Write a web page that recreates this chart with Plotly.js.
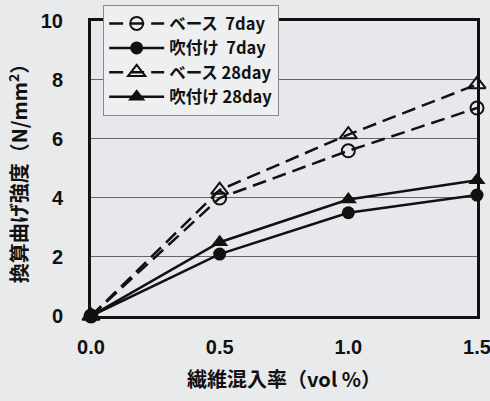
<!DOCTYPE html>
<html>
<head>
<meta charset="utf-8">
<script src="https://cdn.plot.ly/plotly-3.0.1.min.js"></script>
<style>
html,body{margin:0;padding:0;background:#e9eaec;}
#chart{width:490px;height:401px;}
</style>
</head>
<body>
<div id="chart"></div>
<script>
const fiber = [0.0, 0.5, 1.0, 1.5];
const base7 = [0.0, 4.0, 5.6, 7.05];
const spray7 = [0.0, 2.1, 3.5, 4.1];
const base28 = [0.0, 4.27, 6.15, 7.85];
const spray28 = [0.0, 2.5, 3.95, 4.6];
const names = ['ベース\u00a0\u00a07day', '吹付け\u00a0\u00a07day', 'ベース\u00a028day', '吹付け\u00a028day'];
const xTicks = [0.0, 0.5, 1.0, 1.5];
const yTicks = [0, 2, 4, 6, 8, 10];

const dashed = '14px,7px';
const traces = [
  {x: fiber, y: base7, name: names[0], mode: 'lines+markers', cliponaxis: false,
   line: {color: '#111', width: 2.5, dash: dashed},
   marker: {symbol: 'circle-open', size: 13, color: '#111', line: {width: 2, color: '#111'}}},
  {x: fiber, y: spray7, name: names[1], mode: 'lines+markers', cliponaxis: false,
   line: {color: '#111', width: 2.5},
   marker: {symbol: 'circle', size: 13, color: '#111'}},
  {x: fiber, y: base28, name: names[2], mode: 'lines+markers', cliponaxis: false,
   line: {color: '#111', width: 2.5, dash: dashed},
   marker: {symbol: 'triangle-up-open', size: 15, color: '#111', line: {width: 2, color: '#111'}}},
  {x: fiber, y: spray28, name: names[3], mode: 'lines+markers', cliponaxis: false,
   line: {color: '#111', width: 2.5},
   marker: {symbol: 'triangle-up', size: 15, color: '#111'}}
];

const tickFont = {family: 'Liberation Sans, Arial, sans-serif', size: 20, color: '#111', weight: 'bold'};
const layout = {
  width: 490, height: 401,
  margin: {l: 91, r: 0, t: 5, b: 85},
  paper_bgcolor: '#e9eaec',
  plot_bgcolor: '#e7e8eb',
  showlegend: true,
  legend: {
    x: 0.03, y: 1, xanchor: 'left', yanchor: 'top',
    bgcolor: '#eeeff1', bordercolor: '#888', borderwidth: 1.2,
    font: {family: 'Noto Sans CJK JP, sans-serif', size: 16.5, color: '#111', weight: 'bold'},
    itemwidth: 55, tracegroupgap: 0
  },
  xaxis: {
    domain: [0, 0.9674],
    range: [0, 1.5], tickvals: xTicks, tickformat: '.1f',
    showline: true, mirror: true, linecolor: '#111', linewidth: 3,
    showgrid: false, zeroline: false,
    ticks: 'outside', ticklen: 11, tickcolor: 'rgba(0,0,0,0)',
    tickfont: tickFont, ticklabeloverflow: 'allow',
    title: {text: '繊維混入率（vol %）', standoff: 16,
      font: {family: 'Noto Sans CJK JP, sans-serif', size: 20, color: '#111', weight: 'bold'}}
  },
  yaxis: {
    domain: [0, 0.9486],
    range: [0, 10], tickvals: yTicks,
    showline: true, mirror: true, linecolor: '#111', linewidth: 3,
    showgrid: true, gridcolor: '#666', gridwidth: 1, zeroline: false,
    ticks: 'outside', ticklen: 21, tickcolor: 'rgba(0,0,0,0)',
    tickfont: tickFont, ticklabeloverflow: 'allow',
    title: {text: '換算曲げ強度（N/mm<sup>2</sup>）', standoff: 8,
      font: {family: 'Noto Sans CJK JP, sans-serif', size: 20, color: '#111', weight: 'bold'}}
  }
};
Plotly.newPlot('chart', traces, layout, {displayModeBar: false, staticPlot: true});
</script>
</body>
</html>
